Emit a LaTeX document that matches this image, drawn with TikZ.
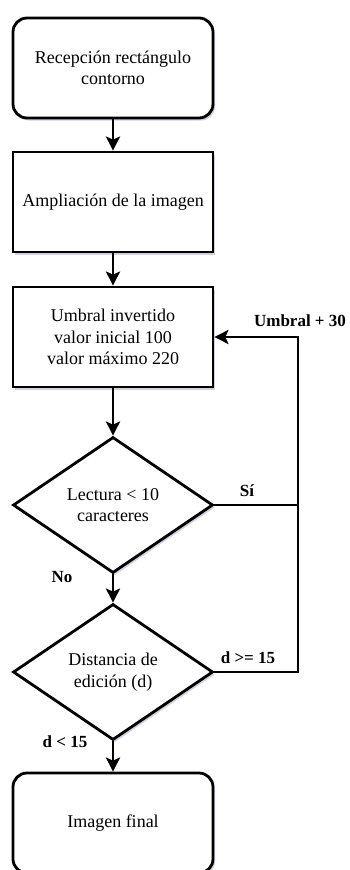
\documentclass[tikz,border=0pt]{standalone}
\usepackage{fontspec}
\setmainfont{Liberation Serif}
\usepackage{tikz}
\usetikzlibrary{shapes,arrows,arrows.meta,positioning,calc,shadows}

\begin{document}
\begin{tikzpicture}[
    x=1pt, y=-1pt,
    sombra/.style={drop shadow={shadow xshift=2pt, shadow yshift=-2.5pt, opacity=0.3, fill=gray!80!blue}},
    proceso/.style={rectangle, draw, line width=2.8pt, fill=white, sombra, minimum width=200pt, minimum height=100pt, align=center, font=\fontsize{18}{21.5}\selectfont},
    terminal/.style={proceso, rounded corners=14pt},
    decision/.style={diamond, draw, line width=2.8pt, fill=white, sombra, minimum width=200pt, minimum height=136pt, aspect=1.47, inner sep=0pt, align=center, font=\fontsize{18}{21.5}\selectfont},
    flecha/.style={-{Stealth[length=14pt, width=14pt, inset=3pt]}, line width=2.8pt},
    linea/.style={line width=2.8pt},
    etiqueta/.style={font=\bfseries\fontsize{17}{20}\selectfont}
]
\useasboundingbox (0,0) rectangle (349,870);

% Nodes
\node[terminal] (recep) at (113,68) {Recepción rectángulo\\contorno};
\node[proceso] (ampl) at (113,202) {Ampliación de la imagen};
\node[proceso] (umbral) at (113,337) {Umbral invertido\\valor inicial 100\\valor máximo 220};
\node[decision] (lect) at (113,505) {Lectura < 10\\caracteres};
\node[decision] (dist) at (113,672) {Distancia de\\edición (d)};
\node[terminal] (final) at (113,823) {Imagen final};

% Main flow
\draw[flecha] (recep) -- (ampl);
\draw[flecha] (ampl) -- (umbral);
\draw[flecha] (umbral) -- (lect);
\draw[flecha] (lect) -- (dist);
\draw[flecha] (dist) -- (final);

% Loop back
\coordinate (giro) at (298,672);
\draw[flecha] (dist.east) -- (giro) |- (umbral.east);
\draw[linea] (lect.east) -- (lect.east -| giro);

% Labels
\node[etiqueta] (lbumbral) at (300,321) {Umbral + 30};
\node[etiqueta] (lbsi) at (247,491) {Sí};
\node[etiqueta] (lbno) at (62,577) {No};
\node[etiqueta] (lbmayor) at (248,658) {d >= 15};
\node[etiqueta] (lbmenor) at (65,742) {d < 15};

\end{tikzpicture}
\end{document}
